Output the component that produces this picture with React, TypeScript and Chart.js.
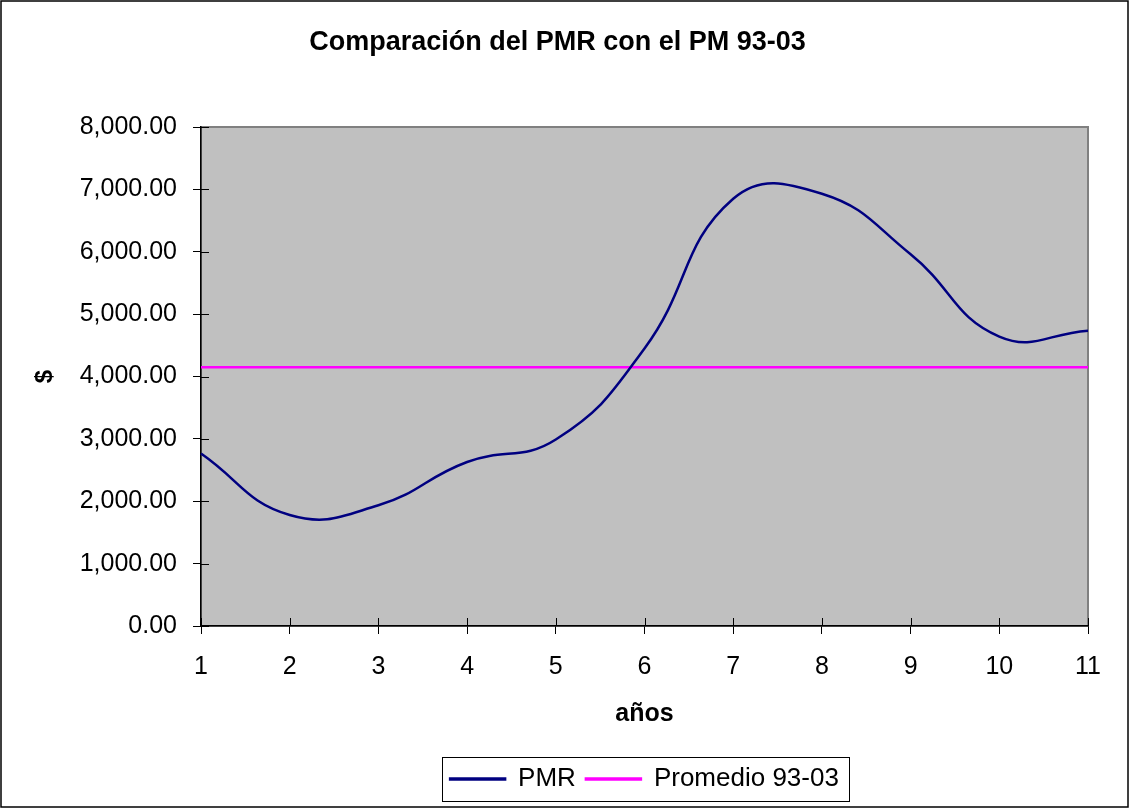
import React, { useEffect, useRef } from "react";
import { Chart, registerables } from "chart.js";

Chart.register(...registerables);

const chartTitle = "Comparación del PMR con el PM 93-03";
const xAxisTitle = "años";
const yAxisTitle = "$";
const years = ["1", "2", "3", "4", "5", "6", "7", "8", "9", "10", "11"];
const pmrValues = [2765, 1780, 1935, 2630, 2990, 4450, 6850, 6930, 5960, 4640, 4735];
const averageValues = [4150, 4150, 4150, 4150, 4150, 4150, 4150, 4150, 4150, 4150, 4150];
const yTickValues = [0, 1000, 2000, 3000, 4000, 5000, 6000, 7000, 8000];

const FONT = "'Liberation Sans', Arial, sans-serif";

const framePlugin = {
  id: "excelFrame",
  beforeDraw(chart: any) {
    const { ctx, chartArea } = chart;
    const { left, top, right, bottom } = chartArea;
    ctx.save();
    ctx.fillStyle = "#ffffff";
    ctx.fillRect(0, 0, chart.width, chart.height);
    ctx.fillStyle = "#C0C0C0";
    ctx.fillRect(left, top, right - left, bottom - top);
    ctx.strokeStyle = "#808080";
    ctx.lineWidth = 2;
    ctx.strokeRect(left, top, right - left, bottom - top);
    ctx.restore();
  },
  afterDraw(chart: any) {
    const { ctx, chartArea } = chart;
    const { left, bottom } = chartArea;
    ctx.save();
    ctx.strokeStyle = "#000";
    ctx.lineWidth = 1;
    const xs = chart.scales.x;
    xs.ticks.forEach((_t: any, i: number) => {
      const px = Math.round(xs.getPixelForTick(i)) + 0.5;
      ctx.beginPath();
      ctx.moveTo(px, bottom);
      ctx.lineTo(px, bottom - 8);
      ctx.stroke();
    });
    const ys = chart.scales.y;
    ys.ticks.forEach((_t: any, i: number) => {
      const py = Math.round(ys.getPixelForTick(i)) + 0.5;
      ctx.beginPath();
      ctx.moveTo(left, py);
      ctx.lineTo(left + 8, py);
      ctx.stroke();
    });
    const lg = chart.legend;
    if (lg && lg.legendHitBoxes && lg.legendHitBoxes.length) {
      const boxes = lg.legendHitBoxes;
      const l = Math.min(...boxes.map((b: any) => b.left)) - 8;
      const r = Math.max(...boxes.map((b: any) => b.left + b.width)) + 10;
      const t = Math.min(...boxes.map((b: any) => b.top)) - 9;
      const b2 = Math.max(...boxes.map((b: any) => b.top + b.height)) + 9;
      ctx.strokeStyle = "#000";
      ctx.lineWidth = 1;
      ctx.strokeRect(Math.round(l) + 0.5, Math.round(t) + 0.5, Math.round(r - l), Math.round(b2 - t));
    }
    ctx.strokeStyle = "#000";
    ctx.lineWidth = 1.5;
    ctx.strokeRect(1, 1, chart.width - 2, chart.height - 2);
    ctx.restore();
  },
};

export default function App() {
  const canvasRef = useRef<HTMLCanvasElement | null>(null);

  useEffect(() => {
    document.body.style.margin = "0";
    const canvas = canvasRef.current;
    if (!canvas) return;
    const chart = new Chart(canvas, {
      type: "line",
      data: {
        labels: years,
        datasets: [
          {
            label: "PMR",
            data: pmrValues,
            borderColor: "#000080",
            backgroundColor: "#000080",
            borderWidth: 2.5,
            pointRadius: 0,
            tension: 0.45,
            fill: false,
          },
          {
            label: "Promedio 93-03",
            data: averageValues,
            borderColor: "#FF00FF",
            backgroundColor: "#FF00FF",
            borderWidth: 2.5,
            pointRadius: 0,
            tension: 0,
            fill: false,
          },
        ],
      },
      options: {
        animation: false,
        responsive: false,
        devicePixelRatio: 1,
        layout: { padding: { left: 27, right: 41, top: 0, bottom: 6 } },
        plugins: {
          title: {
            display: true,
            text: chartTitle,
            color: "#000",
            font: { family: FONT, size: 27, weight: "bold" },
            padding: { top: 26, bottom: 68.6 },
          },
          legend: {
            display: true,
            position: "bottom",
            fullSize: false,
            labels: {
              color: "#000",
              font: { family: FONT, size: 26 },
              boxWidth: 55,
              boxHeight: 1,
              padding: 10,
            },
          },
          tooltip: { enabled: false },
        },
        scales: {
          x: {
            type: "category",
            offset: false,
            grid: {
              display: true,
              drawOnChartArea: false,
              drawTicks: true,
              tickLength: 8,
              color: "#000",
              offset: false,
            },
            border: { display: true, color: "#000", width: 1.5 },
            ticks: {
              color: "#000",
              font: { family: FONT, size: 25 },
              padding: 18,
              maxRotation: 0,
              autoSkip: false,
            },
            title: {
              display: true,
              text: xAxisTitle,
              color: "#000",
              font: { family: FONT, size: 25, weight: "bold" },
              padding: { top: 4, bottom: 27 },
            },
            afterFit: (scale: any) => {
              scale.height = 130;
            },
          },
          y: {
            type: "linear",
            min: 0,
            max: 8000,
            afterBuildTicks: (scale: any) => {
              scale.ticks = yTickValues.map((v) => ({ value: v }));
            },
            grid: {
              display: true,
              drawOnChartArea: false,
              drawTicks: true,
              tickLength: 8,
              color: "#000",
            },
            border: { display: true, color: "#000", width: 1.5 },
            ticks: {
              color: "#000",
              font: { family: FONT, size: 25 },
              padding: 16,
              callback: (v: any) =>
                Number(v).toLocaleString("en-US", {
                  minimumFractionDigits: 2,
                  maximumFractionDigits: 2,
                }),
            },
            title: {
              display: true,
              text: yAxisTitle,
              color: "#000",
              font: { family: FONT, size: 24, weight: "bold" },
              padding: { top: 4, bottom: 4 },
            },
            afterFit: (scale: any) => {
              scale.width = 174;
            },
          },
        },
      },
      plugins: [framePlugin],
    });
    return () => chart.destroy();
  }, []);

  return (
    <div style={{ width: 1129, height: 808 }}>
      <canvas ref={canvasRef} width={1129} height={808} style={{ display: "block" }} />
    </div>
  );
}
